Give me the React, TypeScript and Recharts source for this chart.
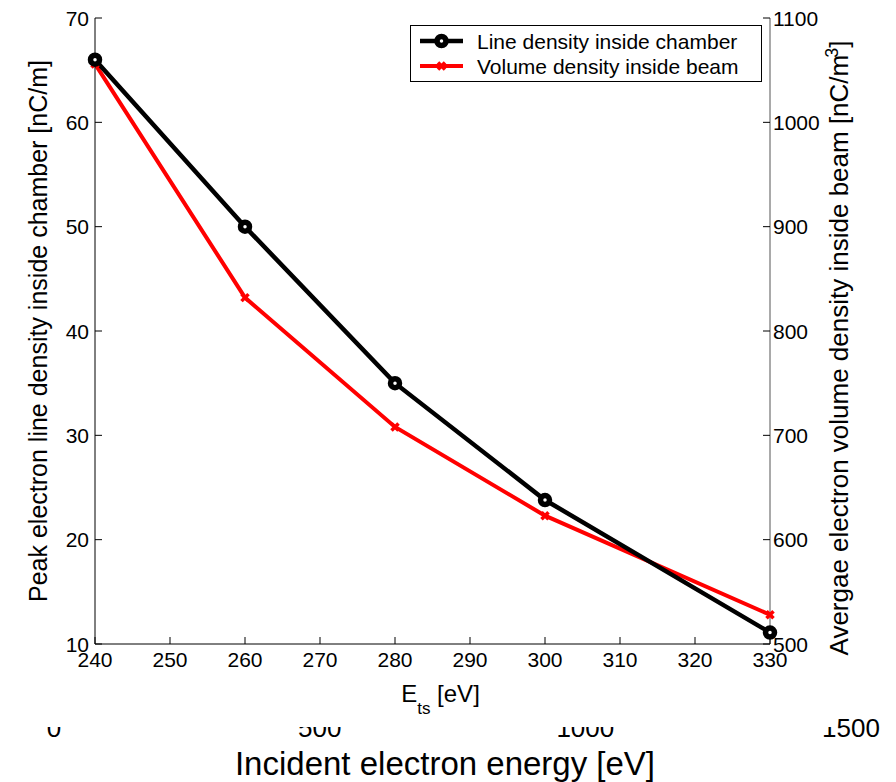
import React from 'react';
import { LineChart, Line, XAxis, YAxis, Legend } from 'recharts';

const energy = [240, 260, 280, 300, 330];
const lineDensity = [66, 50, 35, 23.8, 11.1];
const volumeDensity = [1056, 832, 708, 623, 528];
const xTicks = [240, 250, 260, 270, 280, 290, 300, 310, 320, 330];
const leftTicks = [10, 20, 30, 40, 50, 60, 70];
const rightTicks = [500, 600, 700, 800, 900, 1000, 1100];
const outerTicks = [0, 500, 1000, 1500];

const seriesNames = ['Line density inside chamber', 'Volume density inside beam'];

const data = energy.map((x, i) => ({ x, line: lineDensity[i], vol: volumeDensity[i] }));

const FONT = '"Liberation Sans", Arial, Helvetica, sans-serif';
const TICK_FS = 21;

const LeftTick = (p: any) => (
  <g>
    <line x1={p.x} x2={p.x + 7} y1={p.y} y2={p.y} stroke="#000" strokeWidth={1} />
    <text x={p.x - 6} y={p.y} textAnchor="end" dominantBaseline="central" fontSize={TICK_FS} fontFamily={FONT} fill="#000">
      {p.payload.value}
    </text>
  </g>
);

const RightTick = (p: any) => (
  <g>
    <line x1={p.x} x2={p.x - 7} y1={p.y} y2={p.y} stroke="#000" strokeWidth={1} />
    <text x={p.x + 3} y={p.y} textAnchor="start" dominantBaseline="central" fontSize={TICK_FS} fontFamily={FONT} fill="#000">
      {p.payload.value}
    </text>
  </g>
);

const BottomTick = (p: any) => (
  <g>
    <line x1={p.x} x2={p.x} y1={p.y} y2={p.y - 7} stroke="#000" strokeWidth={1} />
    <text x={p.x} y={p.y + 23} textAnchor="middle" fontSize={TICK_FS} fontFamily={FONT} fill="#000">
      {p.payload.value}
    </text>
  </g>
);

const TopTick = (p: any) => (
  <g>
    <line x1={p.x} x2={p.x} y1={p.y} y2={p.y + 7} stroke="#000" strokeWidth={1} />
  </g>
);

const LeftLabel = (props: any) => {
  const vb = props.viewBox;
  const x = vb.x + 12;
  const y = vb.y + vb.height / 2;
  return (
    <text x={x} y={y} transform={`rotate(-90, ${x}, ${y})`} textAnchor="middle" fontSize={25} fontFamily={FONT} fill="#000">
      Peak electron line density inside chamber [nC/m]
    </text>
  );
};

const RightLabel = (props: any) => {
  const vb = props.viewBox;
  const x = vb.x + 78;
  const y = vb.y + vb.height / 2 + 17;
  return (
    <text x={x} y={y} transform={`rotate(-90, ${x}, ${y})`} textAnchor="middle" fontSize={26} fontFamily={FONT} fill="#000">
      Avergae electron volume density inside beam [nC/m
      <tspan fontSize={18} dx={-3} dy={-10}>3</tspan>
      <tspan dy={10}>]</tspan>
    </text>
  );
};

const BottomLabel = (props: any) => {
  const vb = props.viewBox;
  const x = vb.x + vb.width / 2 + 8;
  const y = vb.y + 58;
  return (
    <text x={x} y={y} textAnchor="middle" fontSize={24} fontFamily={FONT} fill="#000">
      E
      <tspan fontSize={17} dy={12}>ts</tspan>
      <tspan dy={-12}> [eV]</tspan>
    </text>
  );
};

const CircleDot = (p: any) => (
  <circle key={`c-${p.index}`} cx={p.cx} cy={p.cy} r={4.5} fill="#fff" stroke="#000" strokeWidth={5.5} />
);

const CrossDot = (p: any) => (
  <g key={`x-${p.index}`}>
    <line x1={p.cx - 3.5} y1={p.cy - 3.5} x2={p.cx + 3.5} y2={p.cy + 3.5} stroke="#ff0000" strokeWidth={3.5} />
    <line x1={p.cx - 3.5} y1={p.cy + 3.5} x2={p.cx + 3.5} y2={p.cy - 3.5} stroke="#ff0000" strokeWidth={3.5} />
  </g>
);

const LegendBox = () => (
  <div style={{ width: 352, height: 57, border: '1px solid #000', boxSizing: 'border-box', background: '#fff' }}>
    <svg width={350} height={55} style={{ display: 'block' }}>
      <line x1={9} x2={52} y1={15} y2={15} stroke="#000" strokeWidth={4.5} />
      <circle cx={30.5} cy={15} r={4.5} fill="#fff" stroke="#000" strokeWidth={5.5} />
      <text x={66} y={15} dominantBaseline="central" fontSize={TICK_FS} fontFamily={FONT} fill="#000">
        {seriesNames[0]}
      </text>
      <line x1={9} x2={52} y1={40} y2={40} stroke="#ff0000" strokeWidth={4} />
      <line x1={27} y1={36.5} x2={34} y2={43.5} stroke="#ff0000" strokeWidth={3.5} />
      <line x1={27} y1={43.5} x2={34} y2={36.5} stroke="#ff0000" strokeWidth={3.5} />
      <text x={66} y={40} dominantBaseline="central" fontSize={TICK_FS} fontFamily={FONT} fill="#000">
        {seriesNames[1]}
      </text>
    </svg>
  </div>
);

const OUTER_X0 = 54;
const OUTER_SCALE = 797 / 1500;

export default function App() {
  return (
    <div style={{ position: 'absolute', left: 0, top: 0, width: 896, height: 782, background: '#fff', overflow: 'hidden' }}>
      <LineChart width={896} height={782} data={data} margin={{ top: 18, right: 66, bottom: 98, left: 35 }}>
        <XAxis
          xAxisId="bottom"
          dataKey="x"
          type="number"
          domain={[240, 330]}
          ticks={xTicks}
          interval={0}
          height={40}
          tickSize={0}
          tickMargin={0}
          axisLine={{ stroke: '#000', strokeWidth: 1 }}
          tickLine={false}
          tick={BottomTick}
          label={BottomLabel}
        />
        <XAxis
          xAxisId="top"
          orientation="top"
          dataKey="x"
          type="number"
          domain={[240, 330]}
          ticks={xTicks}
          interval={0}
          height={0}
          tickSize={0}
          tickMargin={0}
          axisLine={{ stroke: '#222', strokeWidth: 1 }}
          tickLine={false}
          tick={TopTick}
        />
        <YAxis
          yAxisId="left"
          orientation="left"
          type="number"
          domain={[10, 70]}
          ticks={leftTicks}
          interval={0}
          width={60}
          tickSize={0}
          tickMargin={0}
          axisLine={{ stroke: '#000', strokeWidth: 1 }}
          tickLine={false}
          tick={LeftTick}
          label={LeftLabel}
        />
        <YAxis
          yAxisId="right"
          orientation="right"
          type="number"
          domain={[500, 1100]}
          ticks={rightTicks}
          interval={0}
          width={60}
          tickSize={0}
          tickMargin={0}
          axisLine={{ stroke: '#555', strokeWidth: 1 }}
          tickLine={false}
          tick={RightTick}
          label={RightLabel}
        />
        <Line
          xAxisId="bottom"
          yAxisId="right"
          type="linear"
          dataKey="vol"
          name={seriesNames[1]}
          stroke="#ff0000"
          strokeWidth={4}
          dot={CrossDot}
          isAnimationActive={false}
        />
        <Line
          xAxisId="bottom"
          yAxisId="left"
          type="linear"
          dataKey="line"
          name={seriesNames[0]}
          stroke="#000"
          strokeWidth={4.5}
          dot={CircleDot}
          isAnimationActive={false}
        />
        <Legend
          layout="horizontal"
          verticalAlign="middle"
          align="center"
          content={LegendBox}
          wrapperStyle={{ position: 'absolute', left: 410, top: 25, width: 352, height: 57 }}
        />
      </LineChart>
      <svg width={896} height={782} style={{ position: 'absolute', left: 0, top: 0, pointerEvents: 'none' }}>
        <defs>
          <clipPath id="outerClip">
            <rect x={0} y={727} width={833} height={55} />
            <rect x={833} y={0} width={63} height={782} />
          </clipPath>
        </defs>
        <g clipPath="url(#outerClip)">
          {outerTicks.map((v) => (
            <text key={v} x={OUTER_X0 + v * OUTER_SCALE} y={737} textAnchor="middle" fontSize={26} fontFamily={FONT} fill="#000">
              {v}
            </text>
          ))}
        </g>
        <text x={445} y={775} textAnchor="middle" fontSize={33} fontFamily={FONT} fill="#000">
          Incident electron energy [eV]
        </text>
      </svg>
    </div>
  );
}
